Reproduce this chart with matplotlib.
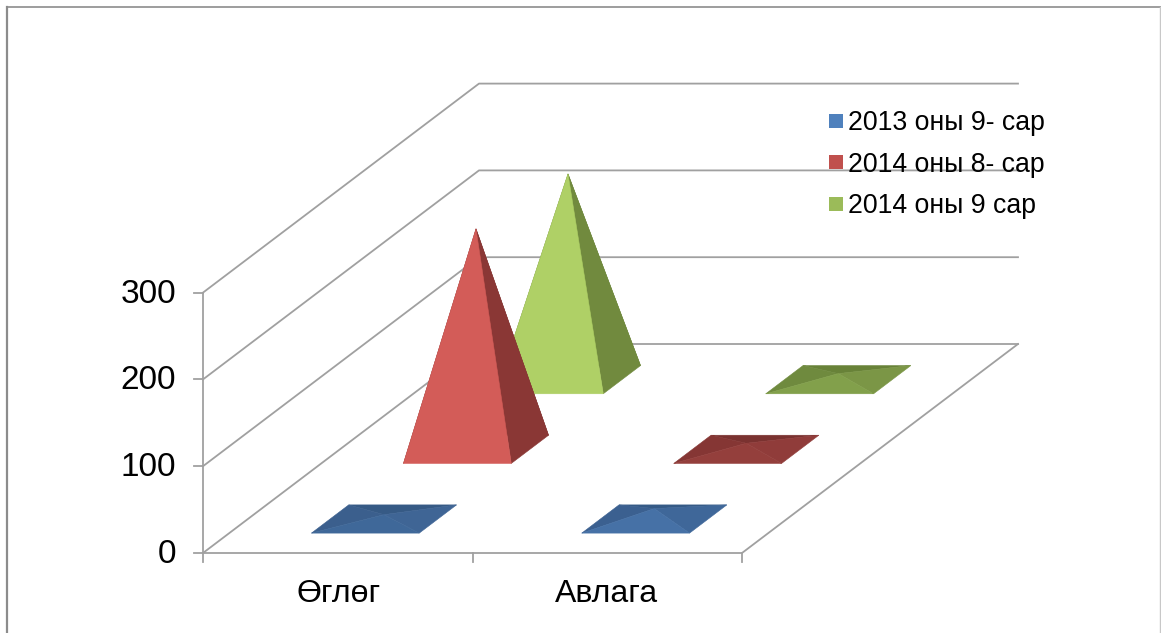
import matplotlib
matplotlib.use('Agg')
import matplotlib.pyplot as plt
from matplotlib.patches import Polygon, Rectangle

plt.rcParams['font.family'] = ['Liberation Sans', 'DejaVu Sans']

categories = ['Өглөг', 'Авлага']
series_names = ['2013 оны 9- сар', '2014 оны 8- сар', '2014 оны 9 сар']
debt_values = [5, 254, 237]
receivable_values = [12, 7, 7]
value_ticks = [0, 100, 200, 300]

legend_colors = ['#4F81BD', '#C0504D', '#9BBB59']
# back, left, right, front
flat_faces = [
    ['#355A86', '#3B6090', '#3F6799', '#4671A6'],
    ['#7A3230', '#853634', '#903C3A', '#943F3C'],
    ['#688238', '#6F8A3E', '#7B9646', '#82A04B'],
]
tall_faces = [
    ['#355A86', '#3B6090', '#3F6799', '#4671A6'],
    ['#7A3230', '#853634', '#8A3735', '#D35C58'],
    ['#688238', '#6F8A3E', '#718A3E', '#AFD066'],
]
# the lowest blue pyramid has hardly any contrast between its faces
low_blue_faces = ['#365A85', '#3B5F8D', '#3F6595', '#3F6899']

grid_color = '#A0A0A0'

# oblique projection of the Excel 3D box, in picture pixels
x0, y0 = 203, 553
cat_w = 269.5
dep_x, dep_y = 276, 209
px_per_unit = 0.868


def project(cat, depth, value):
    return (x0 + cat * cat_w + depth * dep_x,
            y0 - depth * dep_y - value * px_per_unit)


def pyramid(ax, cat, s, value, faces):
    half_w, half_d = 0.2, 0.0675
    c = cat + 0.505 + 0.003 * cat
    d = (s + 0.5) / 3 - 0.004
    fl = project(c - half_w, d - half_d, 0)
    fr = project(c + half_w, d - half_d, 0)
    br = project(c + half_w, d + half_d, 0)
    bl = project(c - half_w, d + half_d, 0)
    top = project(c, d, value)
    for corners, col in zip([(br, bl), (bl, fl), (fr, br), (fl, fr)], faces):
        ax.add_patch(Polygon([corners[0], corners[1], top], closed=True,
                             facecolor=col, edgecolor=col, linewidth=0.4, zorder=5))


fig = plt.figure(figsize=(11.61, 6.33), dpi=100)
ax = fig.add_axes([0, 0, 1, 1])
ax.set_xlim(0, 1161)
ax.set_ylim(633, 0)
ax.axis('off')

# outer frame of the pasted chart
ax.plot([7, 7], [633, 6.5], color='#8C8C8C', lw=1.6)
ax.plot([7, 1161], [6.5, 6.5], color='#8C8C8C', lw=1.2)
ax.plot([1160, 1160], [6.5, 633], color='#C8C8C8', lw=1)

n_cats = len(categories)

# walls and gridlines
for v in value_ticks:
    front = project(0, 0, v)
    back = project(0, 1, v)
    end = project(n_cats, 1, v)
    ax.plot([front[0], back[0], end[0]], [front[1], back[1], end[1]],
            color=grid_color, lw=1.3)
    ax.plot([front[0] - 9, front[0]], [front[1], front[1]], color=grid_color, lw=1.3)
    ax.text(176, front[1] + 1.5, str(v), ha='right', va='center', fontsize=24, color='black')

# floor edges and the axis lines
p = project(0, 0, value_ticks[-1])
ax.plot([p[0], p[0]], [p[1], y0 + 9], color=grid_color, lw=1.3)
a, b, c = project(0, 0, 0), project(n_cats, 0, 0), project(n_cats, 1, 0)
ax.plot([a[0], b[0], c[0]], [a[1], b[1], c[1]], color=grid_color, lw=1.3)
for i in range(1, n_cats + 1):
    t = project(i, 0, 0)
    ax.plot([t[0], t[0]], [t[1], t[1] + 9], color=grid_color, lw=1.3)
for i, name in enumerate(categories):
    t = project(i + 0.5, 0, 0)
    ax.text(t[0] + 1 - 2 * i, 593.5, name, ha='center', va='center', fontsize=23, color='black')

# pyramids, back row first
for s in range(len(series_names) - 1, -1, -1):
    if s == 0:
        debt_faces = low_blue_faces
    else:
        debt_faces = tall_faces[s]
    pyramid(ax, 0, s, debt_values[s], debt_faces)
    pyramid(ax, 1, s, receivable_values[s], flat_faces[s])

# legend
for i, name in enumerate(series_names):
    y = 121 + i * 41.3
    ax.add_patch(Rectangle((829, y - 7), 14, 14, facecolor=legend_colors[i],
                           edgecolor='none', zorder=6))
    ax.text(848, y + 2.5, name, ha='left', va='center', fontsize=19.2, color='black', zorder=6)

fig.savefig('out.png', dpi=100, facecolor='white')
